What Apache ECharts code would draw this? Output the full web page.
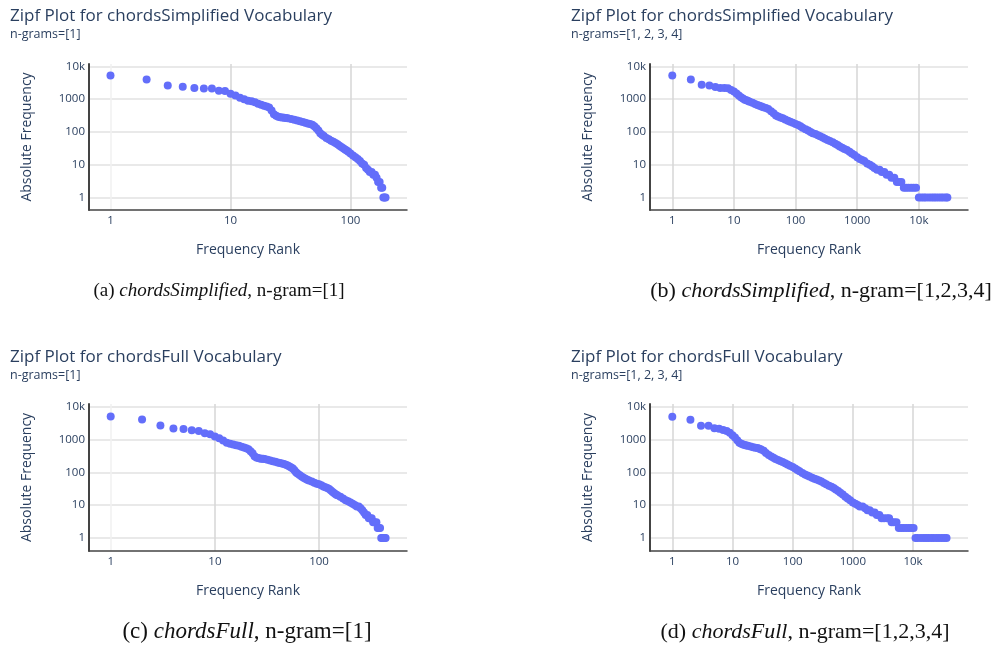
<!DOCTYPE html>
<html><head><meta charset="utf-8">
<script src="https://cdn.jsdelivr.net/npm/echarts@6.0.0/dist/echarts.min.js"></script>
<style>html,body{margin:0;padding:0;background:#fff}#c{width:991px;height:646px}</style>
</head><body><div id="c"></div><script>
// ---- data ----
const titles = ['Zipf Plot for chordsSimplified Vocabulary','Zipf Plot for chordsSimplified Vocabulary','Zipf Plot for chordsFull Vocabulary','Zipf Plot for chordsFull Vocabulary'];
const subtitles = ['n-grams=[1]','n-grams=[1, 2, 3, 4]','n-grams=[1]','n-grams=[1, 2, 3, 4]'];
const captionLabels = ['(a) ','(b) ','(c) ','(d) '];
const captionNames = ['chordsSimplified','chordsSimplified','chordsFull','chordsFull'];
const captionTails = [', n-gram=[1]',', n-gram=[1,2,3,4]',', n-gram=[1]',', n-gram=[1,2,3,4]'];
const xAxisName = 'Frequency Rank';
const yAxisName = 'Absolute Frequency';
const yTicks = [1, 10, 100, 1000, 10000];
const xTicksSmall = [1, 10, 100];
const xTicksLarge = [1, 10, 100, 1000, 10000];

const ranksA = [1,2,3,4,5,6,7,8,9,10,11,12,13,14,15,16,17,18,19,20,21,22,23,24,25,26,27,28,29,30,32,34,36,38,40,42,44,46,48,50,52,54,56,58,60,63,66,69,72,75,78,81,84,87,90,93,96,100,105,110,115,120,125,130,135,140,145,150,155,160,165,170,175,180,184,188,192,196];
const freqA = [5300,4000,2600,2400,2180,2120,2100,1800,1780,1460,1300,1100,1000,900,860,800,720,680,630,600,560,450,350,310,290,280,275,270,265,262,250,235,222,212,200,190,182,176,165,150,130,110,92,82,75,66,60,54,50,46,42,38,35,32,29,27,25,22,19,17,15,13,11,10,8,7,6,6,5,5,4,3,3,2,2,1,1,1];

const ranksB = [1,2,3,4,5,6,7,8,9,10,11,12,13,14,15,16,17,18,20,22,24,26,28,30,33,36,40,44,48,52,57,62,68,75,82,90,100,110,120,130,145,160,175,190,210,230,250,275,300,330,360,400,440,480,520,570,620,680,750,820,900,1000,1100,1200,1300,1450,1600,1750,1900,2100,2300,2500,2750,3000,3300,3600,4000,4400,4800,5200,5700,6200,6800,7500,8200,9000,10000,11000,12000,13000,14500,16000,17500,19000,21000,23000,25000,27500,29000];
const freqB = [5300,4000,2750,2600,2350,2200,2180,2150,1900,1720,1500,1300,1150,1050,960,920,880,840,780,710,670,630,600,570,540,500,430,370,320,295,275,260,240,220,205,190,175,163,150,135,120,110,100,92,86,80,74,68,62,57,53,49,44,40,36,33,30,28,25,22,20,17,15,14,13,11,10,9,8,7,7,6,6,5,5,4,4,3,3,3,2,2,2,2,2,2,1,1,1,1,1,1,1,1,1,1,1,1,1];

const ranksC = [1,2,3,4,5,6,7,8,9,10,11,12,13,14,15,16,17,18,19,20,21,22,23,24,25,26,27,28,29,30,32,34,36,38,40,42,44,46,48,50,52,54,56,58,60,62,65,68,71,74,77,80,85,90,95,100,105,110,115,120,125,130,135,140,145,150,160,170,180,190,200,210,220,230,240,250,260,270,280,290,300,310,320,330,340,355,365,375,385,395,405,415,425,435];
const freqC = [5000,4060,2660,2150,2070,1920,1800,1550,1450,1230,1080,930,800,740,700,670,640,600,570,540,500,440,380,310,280,270,265,260,257,255,240,228,218,210,200,192,185,178,170,160,150,140,130,115,100,92,83,75,68,63,59,56,52,48,45,43,40,37,35,33,31,28,25,23,21,20,18,16,14,13,12,11,10,9,9,8,7,6,5,5,4,4,4,3,3,3,2,2,2,1,1,1,1,1];

const ranksD = [1,2,3,4,5,6,7,8,9,10,11,12,13,14,15,16,17,18,20,22,24,26,28,30,33,36,40,44,48,52,57,62,68,75,82,90,100,110,120,130,145,160,175,190,210,230,250,275,300,330,360,400,440,480,520,570,620,680,750,820,900,1000,1100,1200,1300,1450,1600,1750,1900,2100,2300,2500,2750,3000,3300,3700,4000,4400,4800,5300,5800,6400,7000,7700,8500,9300,10200,11000,12000,13500,15000,16500,18000,20000,22000,24500,27000,30000,33000,36000];
const freqD = [4900,4000,2600,2600,2200,2100,1950,1800,1600,1350,1150,950,800,740,700,680,660,640,610,580,560,545,520,490,450,390,335,300,275,255,238,220,205,190,172,158,145,130,118,108,95,86,80,74,68,63,60,56,52,47,43,39,36,33,30,27,24,21,18,16,14,12,11,10,9,9,8,7,7,6,6,5,5,4,4,4,4,3,3,3,2,2,2,2,2,2,2,1,1,1,1,1,1,1,1,1,1,1,1,1];

// ---- layout ----
const panels = [
  {ranks: ranksA, freq: freqA, xt: xTicksSmall, grid: {left: 89, top: 64, width: 318, height: 146}, xr: [0.662, 295.8], yr: [0.417, 11830], ty: 8, cap: [219, 291], capSize: 19, faintFirst: true},
  {ranks: ranksB, freq: freqB, xt: xTicksLarge, grid: {left: 650, top: 64, width: 318, height: 146}, xr: [0.435, 62700], yr: [0.417, 11830], ty: 8, cap: [821, 291], capSize: 22, faintFirst: false},
  {ranks: ranksC, freq: freqC, xt: xTicksSmall, grid: {left: 89, top: 404, width: 318, height: 147}, xr: [0.619, 698], yr: [0.4, 12020], ty: 349, cap: [247, 632], capSize: 23, faintFirst: true},
  {ranks: ranksD, freq: freqD, xt: xTicksLarge, grid: {left: 650, top: 404, width: 318, height: 147}, xr: [0.426, 81800], yr: [0.4, 12020], ty: 349, cap: [805, 632], capSize: 22, faintFirst: false}
];
const titleX = [10, 571, 10, 571];

const TXT = '#2a3f5f';
const FONT = 'Open Sans';
function fmt(v) { return v >= 10000 ? (v / 1000) + 'k' : String(v); }

const option = {
  animation: false,
  backgroundColor: '#ffffff',
  title: panels.map((p, i) => ({
    text: titles[i], subtext: subtitles[i], left: titleX[i], top: p.ty, itemGap: 3, padding: 0,
    textStyle: {fontFamily: FONT, fontSize: 17, fontWeight: 'normal', color: TXT},
    subtextStyle: {fontFamily: FONT, fontSize: 12.5, color: TXT}
  })),
  grid: panels.map(p => Object.assign({containLabel: false}, p.grid)),
  xAxis: panels.map((p, i) => ({
    type: 'log', logBase: 10, gridIndex: i, min: p.xr[0], max: p.xr[1],
    name: xAxisName, nameLocation: 'middle', nameGap: 33,
    nameTextStyle: {fontFamily: FONT, fontSize: 14, color: TXT},
    axisLine: {show: true, onZero: false, lineStyle: {color: '#444', width: 1.5}},
    axisTick: {show: false, customValues: p.xt},
    axisLabel: {customValues: p.xt, formatter: fmt, fontFamily: FONT, fontSize: 11.5, color: TXT, margin: 5},
    splitLine: {show: true, lineStyle: {color: p.faintFirst ? ['#f1f1f1', '#d6d6d6', '#d6d6d6'] : '#d6d6d6', width: 1.5}}
  })),
  yAxis: panels.map((p, i) => ({
    type: 'log', logBase: 10, gridIndex: i, min: p.yr[0], max: p.yr[1],
    name: yAxisName, nameLocation: 'middle', nameGap: 55,
    nameTextStyle: {fontFamily: FONT, fontSize: 14, color: TXT},
    axisLine: {show: true, onZero: false, lineStyle: {color: '#444', width: 2}},
    axisTick: {show: false, customValues: yTicks},
    axisLabel: {customValues: yTicks, formatter: fmt, fontFamily: FONT, fontSize: 11.5, color: TXT, margin: 4},
    splitLine: {show: true, lineStyle: {color: '#e2e2e2', width: 1.5}}
  })),
  series: panels.map((p, i) => ({
    type: 'scatter', xAxisIndex: i, yAxisIndex: i,
    symbol: 'circle', symbolSize: 8,
    itemStyle: {color: '#636efa', opacity: 1},
    data: p.ranks.map((r, k) => [r, p.freq[k]])
  })),
  graphic: panels.map((p, i) => ({
    type: 'text', x: p.cap[0], y: p.cap[1],
    style: {
      text: '{n|' + captionLabels[i] + '}{it|' + captionNames[i] + '}{n|' + captionTails[i] + '}',
      align: 'center', verticalAlign: 'middle',
      rich: {
        n: {fontFamily: 'Liberation Serif', fontSize: p.capSize, fill: '#111'},
        it: {fontFamily: 'Liberation Serif', fontSize: p.capSize, fontStyle: 'italic', fill: '#111'}
      }
    }
  }))
};
const chart = echarts.init(document.getElementById('c'), null, {renderer: 'canvas'});
chart.setOption(option);
</script></body></html>
